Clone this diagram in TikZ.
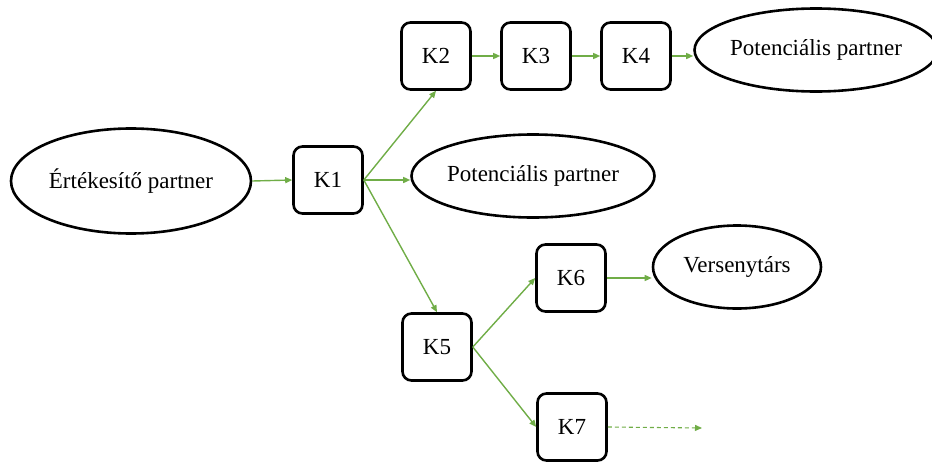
\documentclass[tikz,border=0pt]{standalone}
\usepackage{fontspec}
\setmainfont{Liberation Serif}
\usetikzlibrary{shapes.geometric,arrows.meta}
\definecolor{arrgreen}{RGB}{112,173,71}
\begin{document}
\begin{tikzpicture}[x=1pt,y=-1pt,
  kbox/.style={draw=black,line width=2.6pt,rounded corners=9pt,minimum width=69pt,minimum height=67pt,inner sep=0pt,fill=white,font=\fontsize{23}{27}\selectfont},
  oval/.style={draw=black,line width=2.6pt,ellipse,inner sep=0pt,fill=white,font=\fontsize{23}{27}\selectfont},
  conn/.style={draw=arrgreen,line width=1.4pt,-{Triangle[length=7pt,width=6pt]}}
]
\useasboundingbox (0,0) rectangle (932,463);
\node[oval,minimum width=240pt,minimum height=105pt] (E1) at (131,181) {Értékesítő partner};
\node[kbox] (K1) at (328,180) {K1};
\node[kbox] (K2) at (436,56) {K2};
\node[kbox] (K3) at (536,56) {K3};
\node[kbox] (K4) at (636,56) {K4};
\node[oval,minimum width=229pt,minimum height=83pt] (P1) at (816,50) {Potenciális partner};
\node[oval,minimum width=238pt,minimum height=83pt] (P2) at (533,176) {Potenciális partner};
\node[kbox] (K5) at (437,347) {K5};
\node[kbox] (K6) at (571,278) {K6};
\node[kbox] (K7) at (572,427) {K7};
\node[oval,minimum width=168pt,minimum height=83pt] (V) at (737,267) {Versenytárs};
\coordinate (K7end) at (702,428);

\draw[conn] (E1.east) -- (K1.west);
\draw[conn] (K1.east) -- (K2.south);
\draw[conn] (K1.east) -- (K1.east -| P2.west);
\draw[conn] (K1.east) -- (K5.north);
\draw[conn] (K2.east) -- (K3.west);
\draw[conn] (K3.east) -- (K4.west);
\draw[conn] (K4.east) -- (K4.east -| P1.west);
\draw[conn] (K5.east) -- (K6.west);
\draw[conn] (K5.east) -- (K7.west);
\draw[conn] (K6.east) -- (K6.east -| V.west);
\draw[conn,line width=1.1pt,dash pattern=on 4pt off 3pt] (K7.east) -- (K7end);
\end{tikzpicture}
\end{document}
